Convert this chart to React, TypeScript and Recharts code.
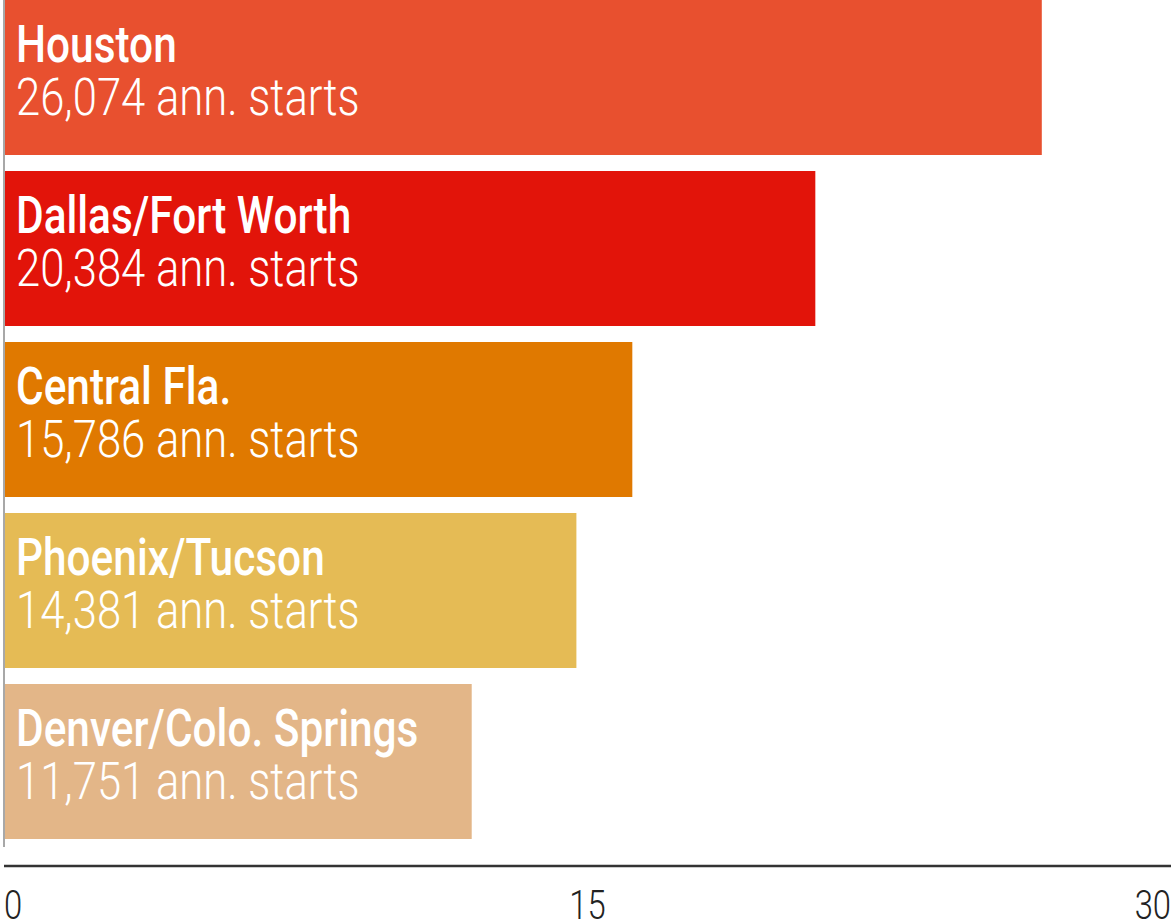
import { BarChart, Bar, XAxis, YAxis, Cell, LabelList } from 'recharts'

// Annual housing starts by metro area (bars in thousands)
const metros = ['Houston', 'Dallas/Fort Worth', 'Central Fla.', 'Phoenix/Tucson', 'Denver/Colo. Springs']
const annualStarts = [26074, 20384, 15786, 14381, 11751]
const barColors = ['#E8502F', '#E2140A', '#E07900', '#E5BB55', '#E3B688']
const axisTicks = [0, 15, 30]

// the printed bars run a bit longer than the 0-30 axis labels suggest
const BAR_DOMAIN_MAX = 29.32

const data = metros.map((name, i) => ({
  name,
  starts: annualStarts[i] / 1000,
  label: `${annualStarts[i].toLocaleString('en-US')} ann. starts`,
}))

const FONT = 'Roboto, "Liberation Sans", sans-serif'

function BarText(props: any) {
  const { x, y, index } = props
  const d = data[index]
  return (
    <g fontFamily={FONT} fill="#ffffff">
      <g transform={`translate(${x + 12},${y + 62}) scale(0.815,1)`}>
        <text x={0} y={0} fontSize={52} fontWeight={500}>{d.name}</text>
      </g>
      <g transform={`translate(${x + 12},${y + 115}) scale(0.855,1)`}>
        <text x={0} y={0} fontSize={51} fontWeight={300}>{d.label}</text>
      </g>
    </g>
  )
}

function AxisTick(props: any) {
  const { x, y, payload, index } = props
  const anchor = index === 0 ? 'start' : index === axisTicks.length - 1 ? 'end' : 'middle'
  return (
    <g transform={`translate(${x},${y}) scale(0.8,1)`}>
      <text x={0} y={45} textAnchor={anchor} fontFamily={FONT} fontSize={41} fontWeight={300} fill="#222222">
        {payload.value}
      </text>
    </g>
  )
}

export default function App() {
  return (
    <div style={{ position: 'absolute', left: 0, top: 0, background: '#fff' }}>
      <BarChart
        width={1171}
        height={922}
        data={data}
        layout="vertical"
        margin={{ top: -8, right: 0, left: 2, bottom: 0 }}
        barCategoryGap={8}
      >
        <YAxis
          type="category"
          dataKey="name"
          width={2}
          tick={false}
          tickLine={false}
          axisLine={{ stroke: '#A8A8A8', strokeWidth: 2 }}
        />
        <YAxis yAxisId="ghost" type="category" dataKey="name" hide />
        <XAxis
          xAxisId="bars"
          type="number"
          domain={[0, BAR_DOMAIN_MAX]}
          height={19}
          tick={false}
          tickLine={false}
          axisLine={false}
        />
        <XAxis
          xAxisId="ticks"
          type="number"
          domain={[0, 30]}
          ticks={axisTicks}
          interval={0}
          height={56}
          tickLine={false}
          axisLine={{ stroke: '#333333', strokeWidth: 2.5 }}
          tick={(p: any) => <AxisTick {...p} />}
        />
        {/* invisible copy on the 0-30 axis so that axis gets its ticks */}
        <Bar dataKey="starts" xAxisId="ticks" yAxisId="ghost" fill="none" isAnimationActive={false} />
        <Bar dataKey="starts" xAxisId="bars" isAnimationActive={false}>
          {data.map((d, i) => (
            <Cell key={d.name} fill={barColors[i]} />
          ))}
          <LabelList dataKey="label" content={<BarText />} />
        </Bar>
      </BarChart>
    </div>
  )
}
